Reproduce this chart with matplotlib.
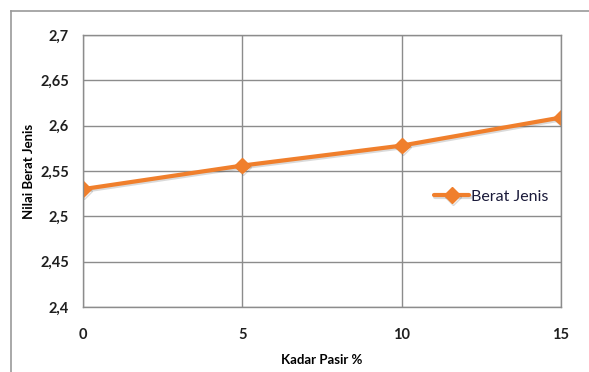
import matplotlib.pyplot as plt
import matplotlib.patheffects as pe
from matplotlib.lines import Line2D
from matplotlib.ticker import FuncFormatter

kadar_pasir = [0, 5, 10, 15]
berat_jenis = [2.530, 2.556, 2.578, 2.609]
y_ticks = [2.4, 2.45, 2.5, 2.55, 2.6, 2.65, 2.7]

plt.rcParams['font.family'] = ['Lato', 'DejaVu Sans']

orange = '#F07F2C'
grid_grey = '#8C8C8C'

fig = plt.figure(figsize=(5.89, 3.72), dpi=100)
ax = fig.add_axes([83 / 589, 1 - 307 / 372, (561 - 83) / 589, (307 - 35) / 372])

ax.plot(kadar_pasir, berat_jenis, color=orange, lw=3, marker='D', ms=8,
        mfc=orange, mec=orange, label='Berat Jenis', solid_capstyle='round',
        path_effects=[pe.SimpleLineShadow(offset=(0.8, -1.2), alpha=0.18, shadow_color='#333333'),
                      pe.Normal()])

ax.set_xlim(0, 15)
ax.set_ylim(2.4, 2.7)
ax.set_xticks(kadar_pasir)
ax.set_yticks(y_ticks)
ax.yaxis.set_major_formatter(FuncFormatter(lambda v, p: ('%g' % round(v, 2)).replace('.', ',')))

ax.grid(True, color=grid_grey, lw=1)
ax.set_axisbelow(True)
for s in ax.spines.values():
    s.set_color(grid_grey)
    s.set_linewidth(1)
ax.tick_params(length=0, labelsize=10.5, colors='#1F1F1F')
ax.tick_params(axis='x', pad=15)
ax.tick_params(axis='y', pad=10)
for lbl in ax.get_xticklabels() + ax.get_yticklabels():
    lbl.set_fontweight('bold')

ax.set_xlabel('Kadar Pasir %', fontsize=9.5, fontweight='bold', labelpad=9)
ax.set_ylabel('Nilai Berat Jenis', fontsize=9.5, fontweight='bold', labelpad=4)

leg = ax.legend(loc='center left', bbox_to_anchor=(0.735, 0.405), frameon=False,
                fontsize=11.5, handlelength=2.2, handletextpad=0.1, borderaxespad=0,
                borderpad=0)
for t in leg.get_texts():
    t.set_color('#1A1A3A')

# outer chart frame (top and left edges)
fig.add_artist(Line2D([11 / 589, 11 / 589], [0, 1 - 11 / 372], color='#9A9A9A', lw=1.2,
                      transform=fig.transFigure))
fig.add_artist(Line2D([11 / 589, 1], [1 - 11 / 372, 1 - 11 / 372], color='#9A9A9A', lw=1.2,
                      transform=fig.transFigure))

fig.savefig('out.png', dpi=100)
